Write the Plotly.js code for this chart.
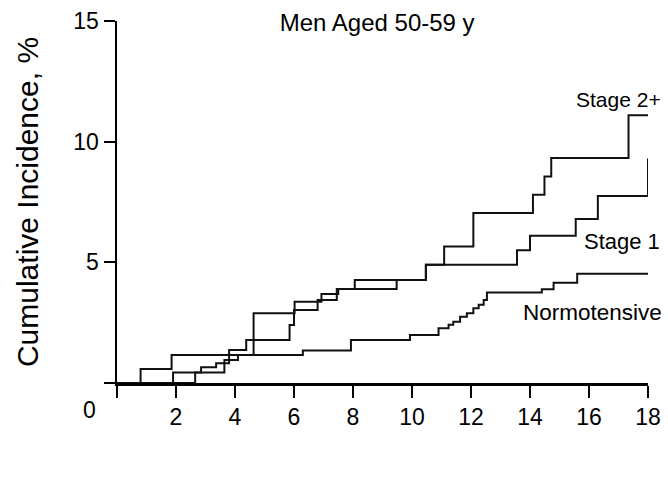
<!DOCTYPE html>
<html>
<head>
<meta charset="utf-8">
<script src="https://cdn.plot.ly/plotly-3.0.1.min.js"></script>
<style>html,body{margin:0;padding:0;background:#fff;}#chart{width:668px;height:481px;}</style>
</head>
<body>
<div id="chart"></div>
<script>
// Follow-up years (x) and cumulative incidence % (y) at each step
var normoX = [0, 0.8, 1.85, 6.3, 7.93, 9.93, 10.9, 11.24, 11.4, 11.63, 11.86, 12.08, 12.26, 12.43, 12.54, 14.4, 14.8, 15.6, 18];
var normoY = [0, 0.58, 1.16, 1.35, 1.78, 1.99, 2.27, 2.41, 2.54, 2.75, 2.89, 3.1, 3.24, 3.44, 3.75, 3.88, 4.15, 4.53, 4.53];

var stage1X = [0, 2.65, 2.85, 3.36, 3.8, 4.38, 5.85, 6.0, 6.8, 7.45, 9.48, 10.47, 13.56, 14.0, 15.55, 16.3, 18, 18];
var stage1Y = [0, 0.43, 0.65, 0.82, 1.37, 1.78, 2.4, 3.03, 3.44, 3.89, 4.27, 4.9, 5.5, 6.1, 6.8, 7.75, 7.75, 9.3];

var stage2X = [0, 1.9, 3.64, 4.1, 4.63, 6.02, 6.93, 7.5, 8.06, 10.47, 11.09, 12.08, 14.1, 14.49, 14.72, 17.34, 18];
var stage2Y = [0, 0.43, 0.95, 1.16, 2.89, 3.37, 3.69, 3.89, 4.27, 4.9, 5.66, 7.04, 7.8, 8.56, 9.32, 11.09, 11.09];

var seriesNames = ["Normotensive", "Stage 1", "Stage 2+"];
var xTicks = [0, 2, 4, 6, 8, 10, 12, 14, 16, 18];
var xTickText = ["", "2", "4", "6", "8", "10", "12", "14", "16", "18"];
var yTicks = [0, 5, 10, 15];
var yTickText = ["", "5", "10", "15"];

var FONT = "Liberation Sans, Arial, Helvetica, sans-serif";
var lineStyle = {color: "#111", width: 2, shape: "hv"};

var traces = [
  {x: normoX, y: normoY, name: seriesNames[0], mode: "lines", line: lineStyle, hoverinfo: "skip"},
  {x: stage1X, y: stage1Y, name: seriesNames[1], mode: "lines", line: lineStyle, hoverinfo: "skip"},
  {x: stage2X, y: stage2Y, name: seriesNames[2], mode: "lines", line: lineStyle, hoverinfo: "skip"}
];

var layout = {
  width: 668, height: 481,
  margin: {l: 117, r: 20, t: 21, b: 98},
  paper_bgcolor: "#fff", plot_bgcolor: "#fff",
  showlegend: false,
  font: {family: FONT, color: "#000"},
  title: {
    text: "Men Aged 50-59 y",
    font: {family: FONT, size: 24, color: "#000"},
    x: 0.49, xref: "paper", xanchor: "center",
    y: 0.953, yref: "container", yanchor: "middle"
  },
  xaxis: {
    range: [0, 18], showgrid: false, zeroline: false,
    showline: true, linecolor: "#000", linewidth: 2.5,
    ticks: "outside", ticklen: 12, tickwidth: 2, tickcolor: "#000",
    tickvals: xTicks, ticktext: xTickText,
    tickfont: {family: FONT, size: 23, color: "#000"},
    fixedrange: true
  },
  yaxis: {
    range: [0, 15], showgrid: false, zeroline: false,
    showline: true, linecolor: "#000", linewidth: 2.5,
    ticks: "outside", ticklen: 11, tickwidth: 2, tickcolor: "#000",
    tickvals: yTicks, ticktext: yTickText,
    tickfont: {family: FONT, size: 23, color: "#000"},
    title: {text: "Cumulative Incidence, %", font: {family: FONT, size: 30, color: "#000"}, standoff: 26},
    fixedrange: true
  },
  annotations: [
    {text: "0", xref: "paper", yref: "paper", x: -0.052, y: -0.075, xanchor: "center", yanchor: "middle", showarrow: false, font: {family: FONT, size: 23, color: "#000"}},
    {text: seriesNames[2], xref: "paper", yref: "paper", x: 1.028, y: 0.782, xanchor: "right", yanchor: "middle", showarrow: false, font: {family: FONT, size: 21, color: "#000"}},
    {text: seriesNames[1], xref: "paper", yref: "paper", x: 1.026, y: 0.39, xanchor: "right", yanchor: "middle", showarrow: false, font: {family: FONT, size: 22, color: "#000"}},
    {text: seriesNames[0], xref: "paper", yref: "paper", x: 1.03, y: 0.195, xanchor: "right", yanchor: "middle", showarrow: false, font: {family: FONT, size: 22.5, color: "#000"}}
  ]
};

Plotly.newPlot("chart", traces, layout, {displayModeBar: false, staticPlot: true});
</script>
</body>
</html>
